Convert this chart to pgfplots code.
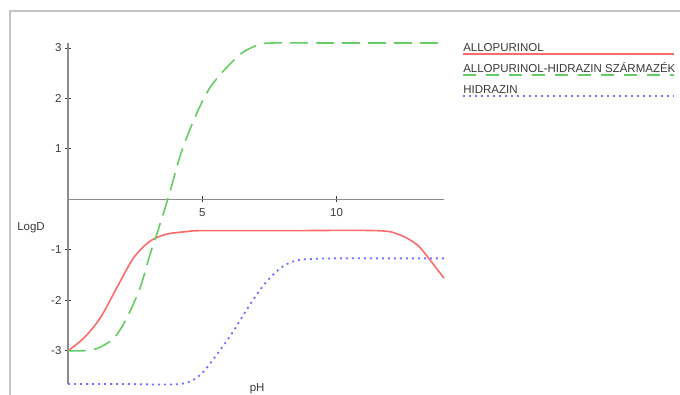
\documentclass[border=0pt]{standalone}
\usepackage{pgfplots}
\pgfplotsset{compat=1.18}
\usepackage{fontspec}
\setmainfont{Liberation Sans}
\definecolor{cred}{HTML}{FF6B6B}
\definecolor{cgreen}{HTML}{66CC66}
\definecolor{cblue}{HTML}{7373FF}
\definecolor{axgray}{HTML}{8C8C8C}
\definecolor{txtgray}{HTML}{3A3A3A}
\definecolor{framegray}{HTML}{C4C4C4}
\tikzset{
  redline/.style={draw=cred, line width=1.6pt},
  greenline/.style={draw=cgreen, line width=1.6pt, dash pattern=on 18pt off 8pt},
  blueline/.style={draw=cblue, line width=1.8pt, dash pattern=on 2pt off 4pt},
  legtext/.style={anchor=base west, inner sep=0pt, text=txtgray, font=\fontsize{11.5}{12}\selectfont},
}
\begin{document}
\begin{tikzpicture}[x=1pt,y=1pt]
\path[use as bounding box] (0,0) rectangle (680,395);
\draw[framegray, line width=2.5pt] (10,0) -- (10,384) -- (681,384);
\begin{axis}[
  at={(68pt,11pt)}, anchor=south west,
  scale only axis, width=376pt, height=341pt,
  xmin=0, xmax=14, ymin=-3.66, ymax=3.1,
  axis lines=middle, axis line style={-},
  x axis line style={axgray, line width=1.5pt},
  y axis line style={axgray, line width=2.5pt},
  xtick={5,10}, ytick={-3,-2,-1,1,2,3},
  tick style={txtgray, line width=1pt}, major tick length=6pt, tick align=center,
  /pgf/number format/assume math mode=true,
  ticklabel style={font=\fontsize{11.5}{12}\selectfont, text=txtgray},
  xticklabel style={yshift=-3pt},
  xlabel={pH}, ylabel={LogD},
  xlabel style={at={(axis description cs:0.503,0.003)}, anchor=north, inner sep=0pt, font=\fontsize{11.5}{12}\selectfont, text=txtgray},
  ylabel style={at={(axis description cs:-0.0984,0.4575)}, anchor=center, rotate=0, inner sep=0pt, font=\fontsize{11.5}{12}\selectfont, text=txtgray},
  clip=false,
]
% ALLOPURINOL
\addplot[redline, smooth, tension=0.5] coordinates {
 (0,-3.0) (0.57,-2.76) (1.19,-2.36) (1.81,-1.76) (2.43,-1.17) (3.05,-0.83) (3.67,-0.69) (4.41,-0.64) (5,-0.62) (8,-0.62) (11.5,-0.62) (12.34,-0.70) (13.0,-0.9) (13.46,-1.19) (14,-1.56)};
% ALLOPURINOL-HIDRAZIN SZARMAZEK
\addplot[greenline, smooth, tension=0.5] coordinates {
 (0,-3.0) (0.94,-2.98) (1.69,-2.76) (2.18,-2.36) (2.68,-1.76) (3.05,-1.1) (3.3,-0.7) (3.73,0.03) (4.23,0.95) (4.78,1.69) (5.28,2.21) (5.9,2.61) (6.5,2.91) (7.07,3.06) (7.6,3.1) (10,3.1) (14,3.1)};
% HIDRAZIN
\addplot[blueline, smooth, tension=0.5] coordinates {
 (0,-3.66) (2,-3.66) (4.16,-3.66) (4.9,-3.49) (5.52,-3.09) (6.15,-2.62) (6.77,-2.09) (7.39,-1.63) (8.0,-1.33) (8.62,-1.2) (9.86,-1.17) (12,-1.17) (14,-1.17)};
% legend samples
\addplot[redline, forget plot] coordinates {(14.71,2.883) (22.56,2.883)};
\addplot[draw=cgreen, line width=1.6pt, dash pattern=on 13pt off 10pt, forget plot] coordinates {(14.71,2.466) (22.56,2.466)};
\addplot[blueline, forget plot] coordinates {(14.71,2.050) (22.56,2.050)};
\node[legtext] at (axis cs:14.71,2.925) {ALLOPURINOL};
\node[legtext] at (axis cs:14.71,2.515) {ALLOPURINOL-HIDRAZIN SZÁRMAZÉK};
\node[legtext] at (axis cs:14.71,2.105) {HIDRAZIN};
\end{axis}
\end{tikzpicture}
\end{document}
